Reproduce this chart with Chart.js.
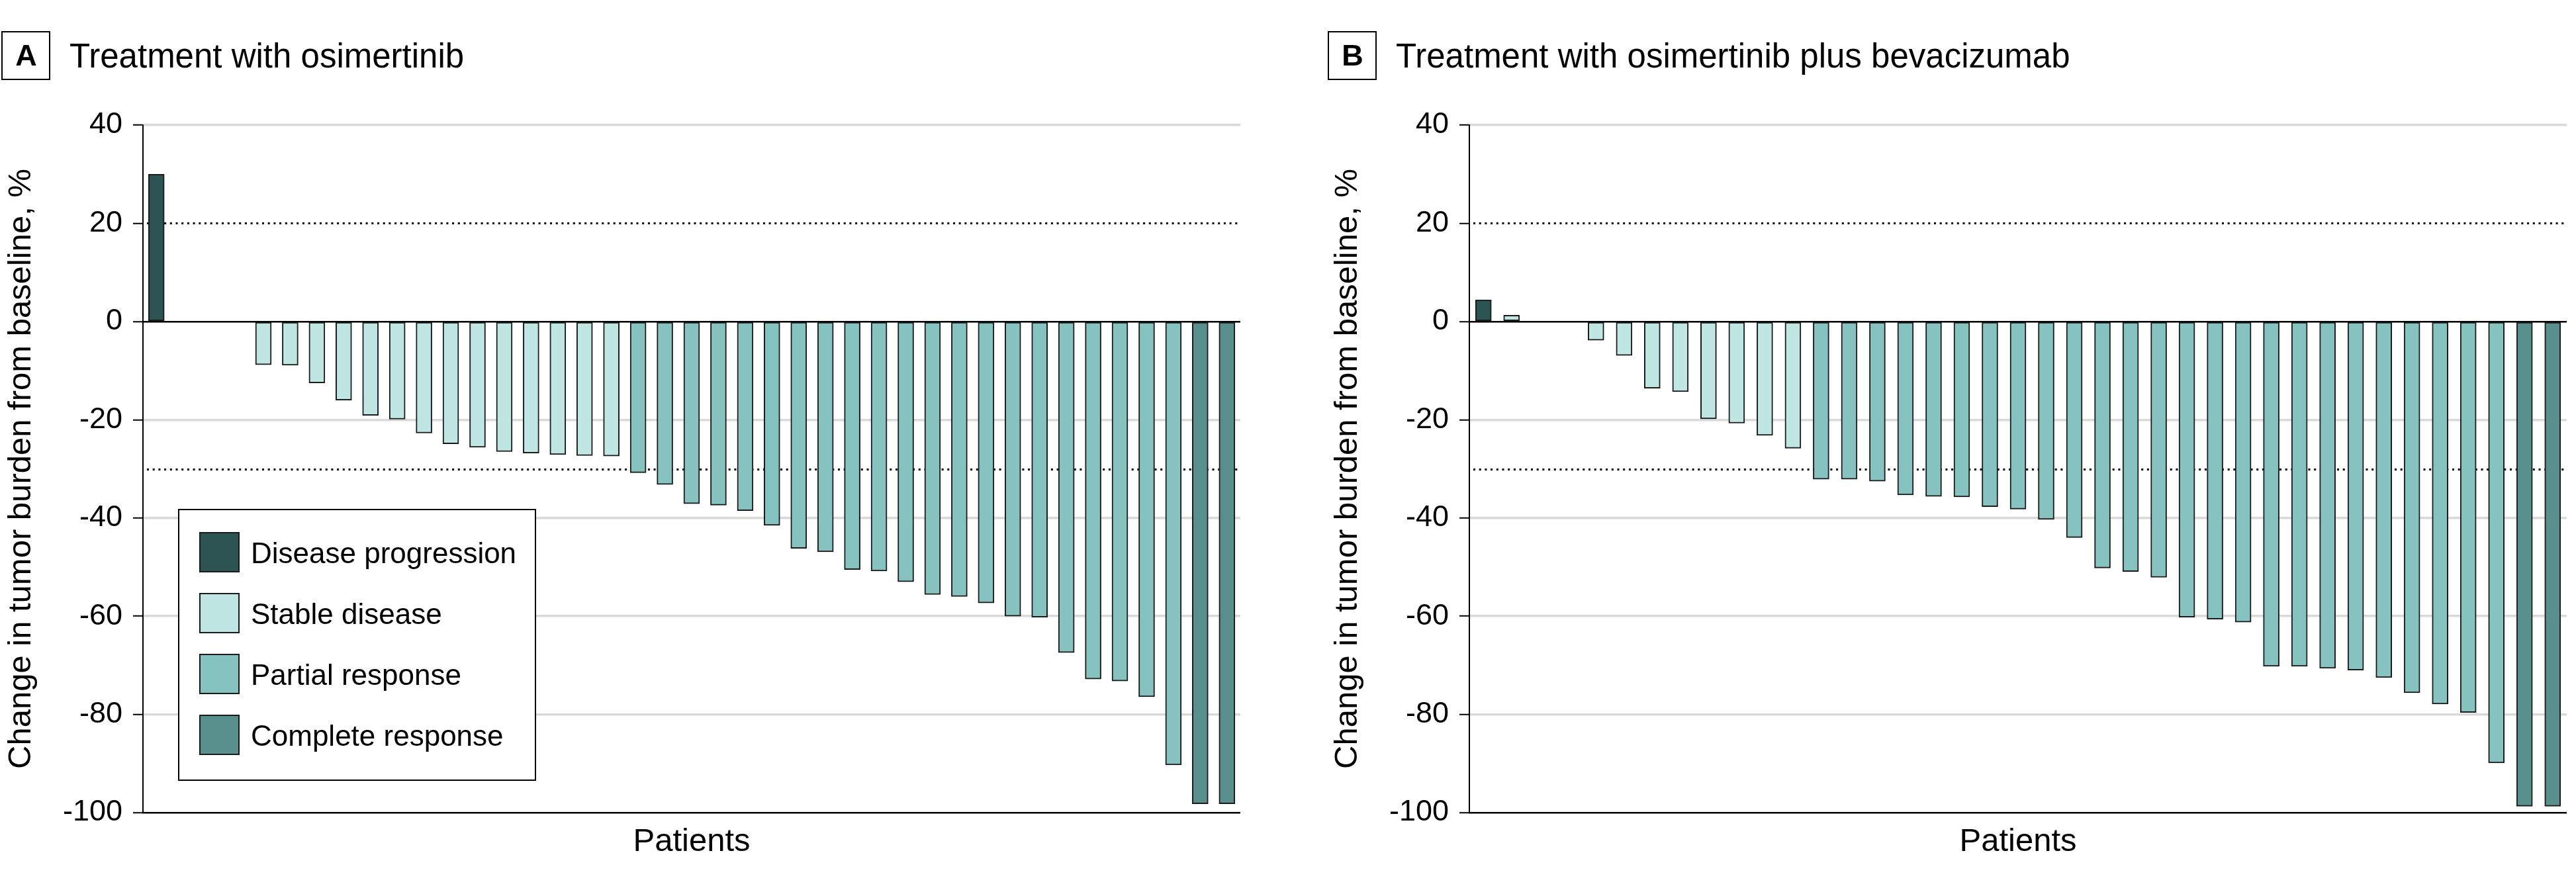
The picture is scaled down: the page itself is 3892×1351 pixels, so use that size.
<!DOCTYPE html>
<html>
<head>
<meta charset="utf-8">
<title>Tumor burden waterfall</title>
<script src="https://cdn.jsdelivr.net/npm/chart.js@4.4.0/dist/chart.umd.min.js"></script>
<style>
  html, body { margin: 0; padding: 0; background: #fff; }
  #wrap { position: relative; width: 3892px; height: 1351px; }
  canvas { position: absolute; top: 0; }
  #chart-a { left: 0; }
  #chart-b { left: 2004px; }
</style>
</head>
<body>
<div id="wrap">
  <canvas id="chart-a" width="1888" height="1351"></canvas>
  <canvas id="chart-b" width="1888" height="1351"></canvas>
</div>
<script>
// response categories (legend order)
const responseCodes = ['PD', 'SD', 'PR', 'CR'];
const responseTypes = ['Disease progression', 'Stable disease', 'Partial response', 'Complete response'];
const responseColors = ['#2b5453', '#c0e6e4', '#86c2c0', '#588e8b'];

const yTicks = [-100, -80, -60, -40, -20, 0, 20, 40];
const thresholds = [20, -30];   // progression / response cut-offs (dotted)

// A: osimertinib, one entry per patient slot (null = no bar)
const changeA = [30, null, null, null,
  -8.8, -8.9, -12.5, -16.0, -19.1, -19.9, -22.7, -24.9, -25.6, -26.5, -26.8, -27.1, -27.3, -27.4,
  -30.8, -33.2, -37.1, -37.4, -38.5, -41.5, -46.2, -46.9, -50.5, -50.8, -53.0, -55.6, -56.0,
  -57.3, -60.0, -60.2, -67.4, -72.8, -73.2, -76.4, -90.3,
  -98.2, -98.2];
const responseA = ['PD', null, null, null,
  'SD', 'SD', 'SD', 'SD', 'SD', 'SD', 'SD', 'SD', 'SD', 'SD', 'SD', 'SD', 'SD', 'SD',
  'PR', 'PR', 'PR', 'PR', 'PR', 'PR', 'PR', 'PR', 'PR', 'PR', 'PR', 'PR', 'PR',
  'PR', 'PR', 'PR', 'PR', 'PR', 'PR', 'PR', 'PR',
  'CR', 'CR'];

// B: osimertinib plus bevacizumab
const changeB = [4.4, 1.3, null, null,
  -3.8, -6.9, -13.6, -14.3, -19.8, -20.7, -23.2, -25.8,
  -32.1, -32.1, -32.5, -35.3, -35.6, -35.7, -37.7, -38.2, -40.3, -44.0, -50.2, -50.9, -52.1,
  -60.2, -60.6, -61.2, -70.2, -70.2, -70.6, -71.0, -72.5, -75.6, -77.9, -79.6, -89.9,
  -98.7, -98.7];
const responseB = ['PD', 'SD', null, null,
  'SD', 'SD', 'SD', 'SD', 'SD', 'SD', 'SD', 'SD',
  'PR', 'PR', 'PR', 'PR', 'PR', 'PR', 'PR', 'PR', 'PR', 'PR', 'PR', 'PR', 'PR',
  'PR', 'PR', 'PR', 'PR', 'PR', 'PR', 'PR', 'PR', 'PR', 'PR', 'PR', 'PR',
  'CR', 'CR'];

const FONT = "'Liberation Sans', Arial, sans-serif";
Chart.defaults.font.family = FONT;
Chart.defaults.color = '#000';

function buildDatasets(values, codes) {
  return responseCodes.map((code, i) => ({
    label: responseTypes[i],
    data: values.map((v, j) => codes[j] === code ? v : null),
    backgroundColor: responseColors[i],
    borderColor: '#1b1b1b',
    borderWidth: 2,
    borderSkipped: false,
    barThickness: 24
  }));
}

function gridColor(c) {
  if (!c.tick) return '#d9d9d9';
  const v = c.tick.value;
  if (v === 0 || v === -100) return '#000';
  if (v === 20) return 'rgba(0,0,0,0)';
  return '#d9d9d9';
}

function gridWidth(c) {
  if (!c.tick) return 3.5;
  const v = c.tick.value;
  return (v === 0 || v === -100) ? 2.5 : 3.5;
}

const panelHeader = {
  id: 'panelHeader',
  afterDraw(chart, args, opts) {
    const ctx = chart.ctx;
    ctx.save();
    ctx.strokeStyle = '#000';
    ctx.lineWidth = 2;
    ctx.strokeRect(3, 48, 72, 72);
    ctx.fillStyle = '#000';
    ctx.textBaseline = 'alphabetic';
    ctx.textAlign = 'center';
    ctx.font = 'bold 45px ' + FONT;
    ctx.fillText(opts.letter, 39.5, 99);
    ctx.textAlign = 'left';
    ctx.font = '51px ' + FONT;
    ctx.fillText(opts.text, 105, 102);
    ctx.restore();
  }
};

const refLines = {
  id: 'refLines',
  beforeDatasetsDraw(chart) {
    const { ctx, chartArea, scales: { y } } = chart;
    ctx.save();
    ctx.strokeStyle = '#000';
    ctx.lineWidth = 3;
    ctx.setLineDash([3, 5.7]);
    thresholds.forEach(v => {
      const py = Math.round(y.getPixelForValue(v)) + 0.5;
      ctx.beginPath();
      ctx.moveTo(chartArea.left + 6, py);
      ctx.lineTo(chartArea.right, py);
      ctx.stroke();
    });
    ctx.restore();
  }
};

const boxLegend = {
  id: 'boxLegend',
  afterDraw(chart) {
    const { ctx, chartArea } = chart;
    const x0 = chartArea.left + 54, y0 = 770, w = 539, h = 409;
    ctx.save();
    ctx.fillStyle = '#fff';
    ctx.fillRect(x0, y0, w, h);
    ctx.strokeStyle = '#000';
    ctx.lineWidth = 2;
    ctx.strokeRect(x0, y0, w, h);
    ctx.font = '44px ' + FONT;
    ctx.textBaseline = 'alphabetic';
    chart.data.datasets.forEach((ds, i) => {
      const sy = y0 + 35 + i * 92;
      ctx.fillStyle = ds.backgroundColor;
      ctx.fillRect(x0 + 32, sy, 59, 59);
      ctx.strokeStyle = '#1b1b1b';
      ctx.strokeRect(x0 + 32, sy, 59, 59);
      ctx.fillStyle = '#000';
      ctx.fillText(ds.label, x0 + 109, sy + 46);
    });
    ctx.restore();
  }
};

function makeChart(id, values, codes, letter, text, withLegend) {
  const plugins = [refLines, panelHeader];
  if (withLegend) plugins.push(boxLegend);
  return new Chart(document.getElementById(id), {
    type: 'bar',
    data: {
      labels: values.map((_, i) => i + 1),
      datasets: buildDatasets(values, codes)
    },
    options: {
      responsive: false,
      animation: false,
      events: [],
      layout: { padding: { top: 189, right: 14, bottom: 0, left: 0 } },
      plugins: {
        legend: { display: false },
        tooltip: { enabled: false },
        panelHeader: { letter, text }
      },
      scales: {
        x: {
          stacked: true,
          afterFit: s => { s.height = 123; },
          ticks: { display: false },
          grid: { display: false },
          border: { display: false },
          title: {
            display: true, text: 'Patients', color: '#000',
            font: { size: 49, lineHeight: 1.2 },
            padding: { top: 0, bottom: 49 }
          }
        },
        y: {
          stacked: true,
          min: -100,
          max: 40,
          afterBuildTicks: s => { s.ticks = yTicks.map(v => ({ value: v })); },
          afterFit: s => { s.width = 216; },
          ticks: { color: '#000', font: { size: 45 }, padding: 16 },
          grid: {
            color: gridColor,
            lineWidth: gridWidth,
            drawTicks: true,
            tickLength: 15,
            tickColor: '#000',
            tickWidth: 2
          },
          border: { display: true, color: '#000', width: 2 },
          title: {
            display: true, text: 'Change in tumor burden from baseline, %', color: '#000',
            font: { size: 49, lineHeight: 1.2 },
            padding: { top: 3, bottom: 0 }
          }
        }
      }
    },
    plugins
  });
}

makeChart('chart-a', changeA, responseA, 'A', 'Treatment with osimertinib', true);
makeChart('chart-b', changeB, responseB, 'B', 'Treatment with osimertinib plus bevacizumab', false);
</script>
</body>
</html>
